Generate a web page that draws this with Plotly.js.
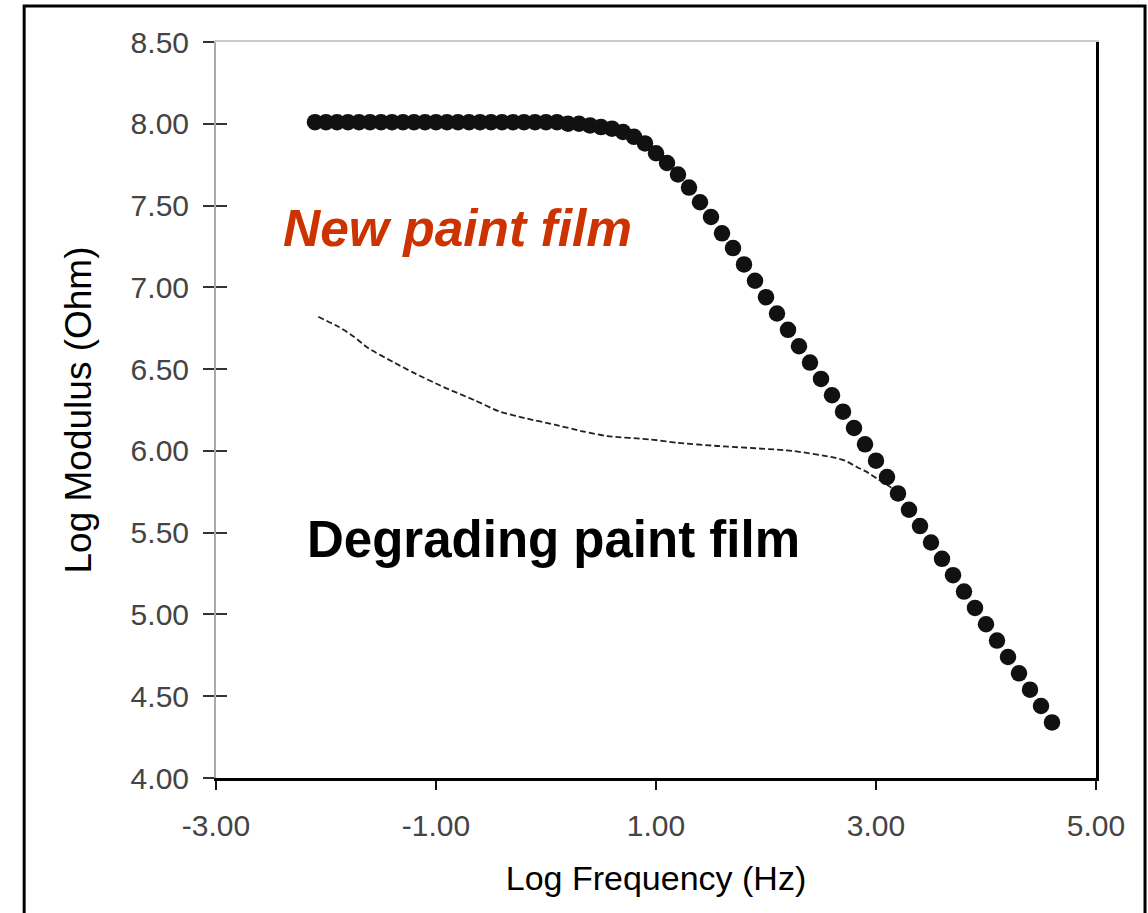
<!DOCTYPE html>
<html>
<head>
<meta charset="utf-8">
<script src="https://cdn.plot.ly/plotly-3.0.1.min.js"></script>
<style>
html, body { margin: 0; padding: 0; background: #ffffff; }
#chart { width: 1148px; height: 913px; }
</style>
</head>
<body>
<div id="chart"></div>
<script>
// ---- data ----
const newFilmLogFreq = [
  -2.1, -2.0, -1.9, -1.8, -1.7, -1.6, -1.5, -1.4, -1.3, -1.2, -1.1,
  -1.0, -0.9, -0.8, -0.7, -0.6, -0.5, -0.4, -0.3, -0.2, -0.1, 0.0,
  0.1, 0.2, 0.3, 0.4, 0.5, 0.6, 0.7, 0.8, 0.9, 1.0,
  1.1, 1.2, 1.3, 1.4, 1.5, 1.6, 1.7, 1.8, 1.9, 2.0,
  2.1, 2.2, 2.3, 2.4, 2.5, 2.6, 2.7, 2.8, 2.9, 3.0,
  3.1, 3.2, 3.3, 3.4, 3.5, 3.6, 3.7, 3.8, 3.9, 4.0,
  4.1, 4.2, 4.3, 4.4, 4.5, 4.6
];
const newFilmLogMod = [
  8.01, 8.01, 8.01, 8.01, 8.01, 8.01, 8.01, 8.01, 8.01, 8.01, 8.01,
  8.01, 8.01, 8.01, 8.01, 8.01, 8.01, 8.01, 8.01, 8.01, 8.01, 8.01,
  8.01, 8.00, 8.00, 7.99, 7.98, 7.97, 7.95, 7.92, 7.88, 7.82,
  7.76, 7.69, 7.61, 7.52, 7.43, 7.33, 7.24, 7.14, 7.04, 6.94,
  6.84, 6.74, 6.64, 6.54, 6.44, 6.34, 6.24, 6.14, 6.04, 5.94,
  5.84, 5.74, 5.64, 5.54, 5.44, 5.34, 5.24, 5.14, 5.04, 4.94,
  4.84, 4.74, 4.64, 4.54, 4.44, 4.34
];
const degradingLogFreq = [
  -2.07, -1.89, -1.75, -1.62, -1.38, -1.21, -0.93, -0.65, -0.42, -0.19,
  0.08, 0.33, 0.56, 0.95, 1.19, 1.56, 2.24, 2.61, 2.72, 2.83, 2.92, 3.01, 3.13, 3.25
];
const degradingLogMod = [
  6.82, 6.76, 6.70, 6.63, 6.54, 6.48, 6.39, 6.31, 6.24, 6.20,
  6.16, 6.12, 6.09, 6.07, 6.05, 6.03, 6.00, 5.96, 5.94, 5.90, 5.87, 5.83, 5.78, 5.70
];
const xTickVals = [-3, -1, 1, 3, 5];
const xTickText = ["-3.00", "-1.00", "1.00", "3.00", "5.00"];
const yTickVals = [4.0, 4.5, 5.0, 5.5, 6.0, 6.5, 7.0, 7.5, 8.0, 8.5];
const yTickText = ["4.00", "4.50", "5.00", "5.50", "6.00", "6.50", "7.00", "7.50", "8.00", "8.50"];
const xTitle = "Log Frequency (Hz)";
const yTitle = "Log Modulus (Ohm)";
const newFilmLabel = "New paint film";
const degradingLabel = "Degrading paint film";

// ---- figure ----
const FONT = "Liberation Sans, Arial, Helvetica, sans-serif";

const traces = [
  {
    type: "scatter", mode: "lines",
    x: degradingLogFreq, y: degradingLogMod,
    line: { color: "#222222", width: 1.8, dash: "6px,3px", shape: "spline", smoothing: 0.6 },
    hoverinfo: "skip"
  },
  {
    type: "scatter", mode: "markers",
    x: newFilmLogFreq, y: newFilmLogMod,
    marker: { color: "#111111", size: 16.5, line: { width: 0 } },
    hoverinfo: "skip"
  }
];

const layout = {
  width: 1148, height: 913,
  margin: { l: 216, r: 52, t: 42, b: 135, pad: 0 },
  paper_bgcolor: "#ffffff", plot_bgcolor: "#ffffff",
  showlegend: false,
  font: { family: FONT, color: "#000000" },
  xaxis: {
    range: [-3, 5], tickmode: "array", tickvals: xTickVals, ticktext: xTickText,
    showgrid: false, zeroline: false,
    showline: true, linecolor: "#000000", linewidth: 3,
    ticks: "outside", ticklen: 9, tickwidth: 2, tickcolor: "#111111",
    ticklabelstandoff: 10,
    tickfont: { family: FONT, size: 30, color: "#444444" },
    title: { text: xTitle, font: { family: FONT, size: 34, color: "#000000" }, standoff: 26 }
  },
  yaxis: {
    range: [4, 8.5], tickmode: "array", tickvals: yTickVals, ticktext: yTickText,
    showgrid: false, zeroline: false,
    showline: true, linecolor: "#aaaaaa", linewidth: 2,
    ticks: "outside", ticklen: 11, tickwidth: 2, tickcolor: "#333333",
    ticklabelstandoff: 8,
    tickfont: { family: FONT, size: 30, color: "#444444" },
    title: { text: yTitle, font: { family: FONT, size: 37, color: "#000000" }, standoff: 28 }
  },
  xaxis2: {
    overlaying: "x", side: "top", anchor: "y", range: [-3, 5],
    showgrid: false, zeroline: false, showticklabels: false, ticks: "",
    showline: true, linecolor: "#cccccc", linewidth: 2
  },
  yaxis2: {
    overlaying: "y", side: "left", anchor: "x", range: [4, 8.5],
    tickmode: "array", tickvals: yTickVals,
    showgrid: false, zeroline: false, showticklabels: false,
    ticks: "inside", ticklen: 11, tickwidth: 2, tickcolor: "#333333",
    showline: false
  },
  yaxis3: {
    overlaying: "y", side: "right", anchor: "x", range: [4, 8.5],
    showgrid: false, zeroline: false, showticklabels: false, ticks: "",
    showline: true, linecolor: "#000000", linewidth: 3
  },
  shapes: [
    {
      type: "rect", xref: "paper", yref: "paper",
      x0: -0.218, x1: 1.0557, y0: -0.25, y1: 1.0489,
      line: { color: "#000000", width: 3 }, fillcolor: "rgba(0,0,0,0)", layer: "above"
    }
  ],
  annotations: [
    {
      text: newFilmLabel, x: -2.41, y: 7.36, xref: "x", yref: "y",
      xanchor: "left", yanchor: "middle", showarrow: false,
      font: { family: FONT, size: 51.5, color: "#cc3300", weight: "bold", style: "italic" }
    },
    {
      text: degradingLabel, x: -2.19, y: 5.46, xref: "x", yref: "y",
      xanchor: "left", yanchor: "middle", showarrow: false,
      font: { family: FONT, size: 51, color: "#000000", weight: "bold" }
    }
  ]
};

// dummy empty traces so the overlay axes are instantiated
traces.push({ type: "scatter", mode: "markers", x: [], y: [], xaxis: "x2", yaxis: "y", hoverinfo: "skip" });
traces.push({ type: "scatter", mode: "markers", x: [], y: [], xaxis: "x", yaxis: "y2", hoverinfo: "skip" });
traces.push({ type: "scatter", mode: "markers", x: [], y: [], xaxis: "x", yaxis: "y3", hoverinfo: "skip" });

Plotly.newPlot("chart", traces, layout, { staticPlot: true, displayModeBar: false });
</script>
</body>
</html>
